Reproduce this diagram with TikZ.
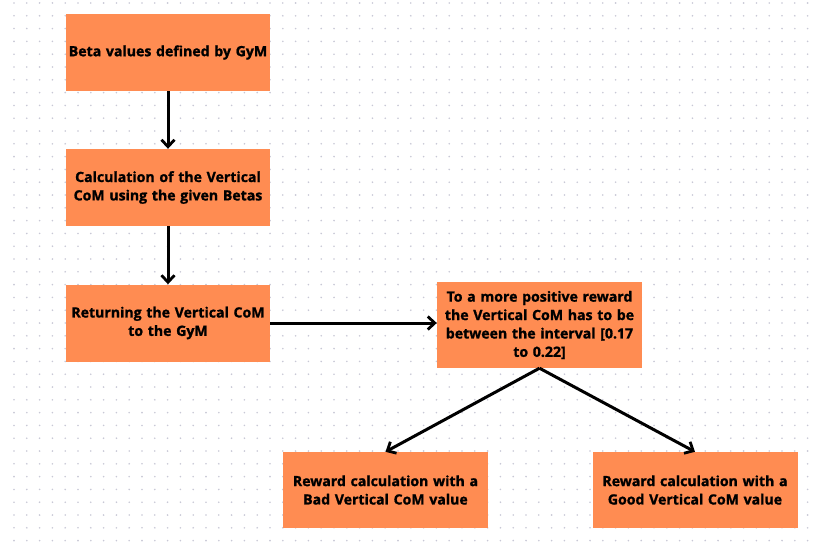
\documentclass[tikz,border=0pt]{standalone}
\usepackage{fontspec}
\setmainfont{Open Sans}[BoldFeatures={FakeBold=1.2}]
\usetikzlibrary{arrows.meta}

\definecolor{boxorange}{RGB}{255,140,82}
\definecolor{dotgray}{RGB}{200,200,214}

\begin{document}
\begin{tikzpicture}[x=1pt,y=-1pt]

	\tikzset{
		stepbox/.style={
			fill=boxorange,
			rectangle,
			minimum width=204pt,
			minimum height=77pt,
			text width=200pt,
			align=center,
			inner sep=0pt,
			font=\fontsize{14.1}{18.4}\selectfont\bfseries
		},
		flow/.style={
			line width=3pt,
			-{Straight Barb[length=7pt,width=13pt,line width=2.8pt]}
		}
	}

	% BACKGROUND
	\useasboundingbox (0,0) rectangle (819,543);
	\fill[white] (0,0) rectangle (819,543);
	\foreach \i in {0,...,63}{
		\foreach \j in {0,...,42}{
			\fill[dotgray] (14+12.8*\i,3+12.8*\j) circle (0.9pt);
		}
	}

	% LEFT COLUMN
	\node[stepbox] (beta) at (168,52.5) {Beta values defined by GyM};
	\node[stepbox] (calc) at (168,187.5) {Calculation of the Vertical\\CoM using the given Betas};
	\node[stepbox] (return) at (168,323) {Returning the Vertical CoM\\to the GyM};

	% INTERVAL
	\node[stepbox, minimum width=205pt, minimum height=86pt] (interval) at (539.5,325)
		{To a more positive reward\\the Vertical CoM has to be\\between the interval [0.17\\to 0.22]};

	% REWARDS
	\node[stepbox, minimum width=205pt, minimum height=76pt] (bad) at (385.5,490)
		{Reward calculation with a\\Bad Vertical CoM value};
	\node[stepbox, minimum width=205pt, minimum height=76pt] (good) at (695,490)
		{Reward calculation with a\\Good Vertical CoM value};

	% ARROWS
	\draw[flow] (beta.south) -- (calc.north);
	\draw[flow] (calc.south) -- (return.north);
	\draw[flow] (return.east) -- (return.east -| interval.west);
	\draw[flow] (interval.south) -- (bad.north);
	\draw[flow] (interval.south) -- (good.north);

\end{tikzpicture}
\end{document}
